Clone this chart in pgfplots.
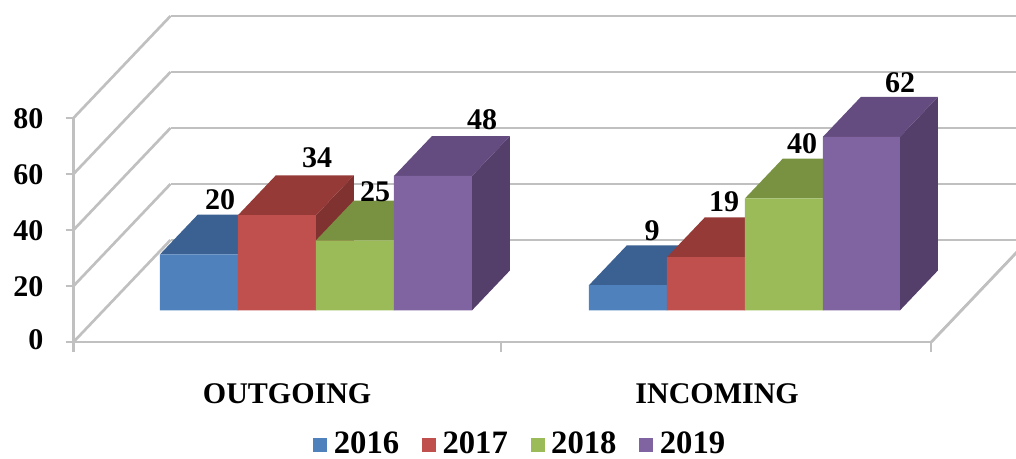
\documentclass[border=0pt]{standalone}
\usepackage{fontspec}
\setmainfont{Liberation Serif}
\usepackage{pgfplots}
\pgfplotsset{compat=1.18}
\definecolor{gridc}{RGB}{192,192,192}
\definecolor{fa}{RGB}{79,129,189}\definecolor{ta}{RGB}{58,97,146}\definecolor{sa}{RGB}{52,86,130}
\definecolor{fb}{RGB}{192,80,77}\definecolor{tb}{RGB}{150,58,55}\definecolor{sb}{RGB}{128,50,48}
\definecolor{fc}{RGB}{155,187,89}\definecolor{tc}{RGB}{120,146,66}\definecolor{sc}{RGB}{104,127,58}
\definecolor{fd}{RGB}{128,100,162}\definecolor{td}{RGB}{100,76,128}\definecolor{sd}{RGB}{84,62,106}
% bar: x0, x1, value, front, top, side colours; depth runs from y=0.31 to y=0.70
\newcommand{\threedbar}[6]{%
  \addplot3[forget plot,draw=none,fill=#6] coordinates {(#2,0.31,0) (#2,0.70,0) (#2,0.70,#3) (#2,0.31,#3) (#2,0.31,0)};
  \addplot3[forget plot,draw=none,fill=#5] coordinates {(#1,0.31,#3) (#2,0.31,#3) (#2,0.70,#3) (#1,0.70,#3) (#1,0.31,#3)};
  \addplot3[forget plot,draw=none,fill=#4] coordinates {(#1,0.31,0) (#2,0.31,0) (#2,0.31,#3) (#1,0.31,#3) (#1,0.31,0)};
}
\begin{document}
\begin{tikzpicture}
\path[use as bounding box,clip] (0,0) rectangle (762pt,344.25pt);
\begin{axis}[
  at={(55.125pt,87.75pt)},anchor=origin,
  x={(0.75pt,0pt)},y={(72.75pt,76.5pt)},z={(0pt,2.1pt)},
  xmin=0,xmax=858,ymin=0,ymax=1,zmin=0,zmax=80,
  axis lines=left,
  axis line style={-,gridc,line width=2pt},
  major tick length=0pt,
  clip=false,
  ytick=\empty,
  ztick={0,20,40,60,80},
  xtick={0,427.5,857.5},
  xticklabels={},
  extra x ticks={213.5,643.5},
  extra x tick labels={OUTGOING,INCOMING},
  extra x tick style={tick label style={xshift=4.5pt,yshift=-28pt}},
  zticklabel style={xshift=-19pt,yshift=6pt},
  zmajorgrids=true,
  xmajorgrids=false,
  ymajorgrids=false,
  major grid style={gridc,line width=2pt},
  /pgf/number format/assume math mode=true,
  tick label style={font=\fontsize{22.5pt}{24pt}\selectfont\bfseries,black},
  legend columns=4,
  legend cell align=left,
  legend style={draw=none,fill=none,at={(axis cs:0,0,0)},anchor=center,xshift=335.3pt,yshift=-76pt,
    font=\fontsize{24.5pt}{26pt}\selectfont\bfseries,
    /tikz/every even column/.style={column sep=15pt},inner sep=0pt},
  legend image code/.code={\path[draw=none,fill=none] (0pt,0pt) rectangle (13.5pt,1pt);\fill[#1,draw=none] (0pt,-6.25pt) rectangle (10.5pt,4.25pt);},
]
\addplot3[forget plot,gridc,line width=1.6pt] coordinates {(857.5,0,0) (857.5,1,0)};
% tick marks
\addplot3[forget plot,gridc,line width=1.6pt] coordinates {(-8,0,0) (0,0,0)};
\addplot3[forget plot,gridc,line width=1.6pt] coordinates {(-8,0,20) (0,0,20)};
\addplot3[forget plot,gridc,line width=1.6pt] coordinates {(-8,0,40) (0,0,40)};
\addplot3[forget plot,gridc,line width=1.6pt] coordinates {(-8,0,60) (0,0,60)};
\addplot3[forget plot,gridc,line width=1.6pt] coordinates {(-8,0,80) (0,0,80)};
\addplot3[forget plot,gridc,line width=1.6pt] coordinates {(0,0,-3.6) (0,0,0)};
\addplot3[forget plot,gridc,line width=1.6pt] coordinates {(427.5,0,-3.6) (427.5,0,0)};
\addplot3[forget plot,gridc,line width=1.6pt] coordinates {(857.5,0,-3.6) (857.5,0,0)};
\threedbar{56.4}{134.4}{20}{fa}{ta}{sa}
\threedbar{134.4}{212.4}{34}{fb}{tb}{sb}
\threedbar{212.4}{290.4}{25}{fc}{tc}{sc}
\threedbar{290.4}{368.4}{48}{fd}{td}{sd}
\threedbar{485.4}{563.4}{9}{fa}{ta}{sa}
\threedbar{563.4}{641.4}{19}{fb}{tb}{sb}
\threedbar{641.4}{719.4}{40}{fc}{tc}{sc}
\threedbar{719.4}{796.4}{62}{fd}{td}{sd}
\addlegendimage{fill=fa}\addlegendentry{2016}
\addlegendimage{fill=fb}\addlegendentry{2017}
\addlegendimage{fill=fc}\addlegendentry{2018}
\addlegendimage{fill=fd}\addlegendentry{2019}
\foreach \px/\pz/\t in {146.5/50.7/20,243.5/65.7/34,301.5/53.6/25,408.5/79.3/48,578.5/39.6/9,650.5/50/19,728.5/71/40,826.5/92.5/62}{
  \edef\tmp{\noexpand\node[font=\noexpand\fontsize{22.5pt}{24pt}\noexpand\selectfont\noexpand\bfseries,inner sep=0pt] at (axis cs:\px,0,\pz) {\t};}\tmp
}
\end{axis}
\end{tikzpicture}
\end{document}
